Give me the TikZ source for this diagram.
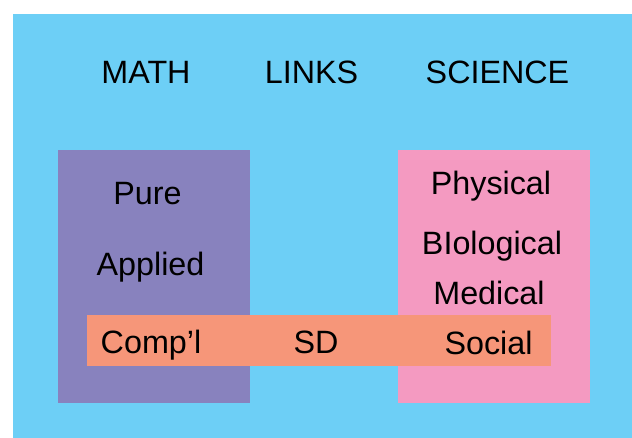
\documentclass[tikz,border=0pt]{standalone}
\usepackage{fontspec}
\setmainfont{Liberation Sans}
\definecolor{skyblue}{HTML}{6DCFF6}
\definecolor{mathviolet}{HTML}{8882BE}
\definecolor{sciencepink}{HTML}{F49AC1}
\definecolor{linkorange}{HTML}{F69679}
\tikzset{
  area/.style={inner sep=0pt, anchor=base, font=\fontsize{32.3}{38}\selectfont}
}
\begin{document}
\begin{tikzpicture}[x=1pt,y=-1pt]
\useasboundingbox (0,0) rectangle (632,438);

\fill [skyblue] (13,14) rectangle (632,438);
\fill [mathviolet] (58,150) rectangle (250,403);
\fill [sciencepink] (398,150) rectangle (590,403);
\fill [linkorange] (87,315) rectangle (551,366);

% headings
\node[area] (math) at (146,84) {MATH};
\node[area] (links) at (311.5,84) {LINKS};
\node[area] (science) at (497.5,84) {SCIENCE};

% math side
\node[area] (pure) at (147.5,205) {Pure};
\node[area] (applied) at (150.5,276) {Applied};
\node[area] (compl) at (151,353) {Comp’l};

% links
\node[area] (sd) at (316,353) {SD};

% science side
\node[area] (physical) at (491,195) {Physical};
\node[area] (biological) at (492,255) {BIological};
\node[area] (medical) at (489,305) {Medical};
\node[area] (social) at (488.5,355) {Social};
\end{tikzpicture}
\end{document}
